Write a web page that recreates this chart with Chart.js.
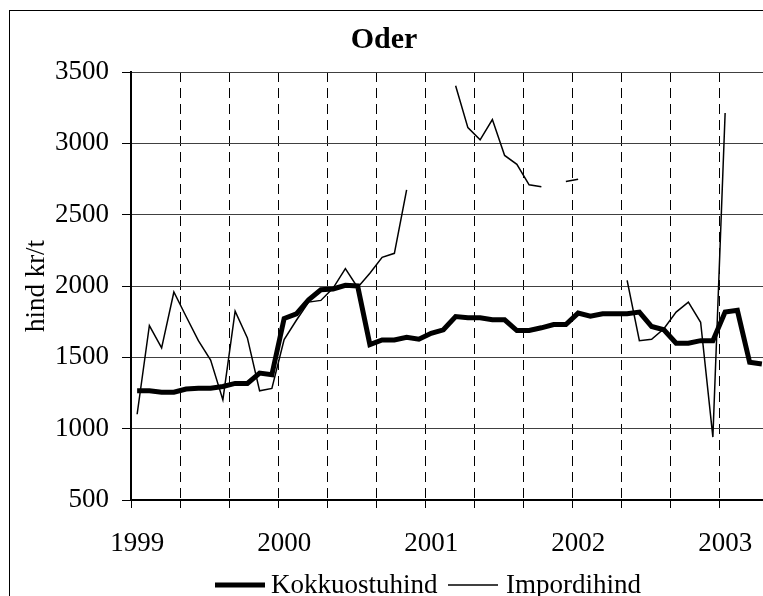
<!DOCTYPE html>
<html>
<head>
<meta charset="utf-8">
<script src="https://cdn.jsdelivr.net/npm/chart.js@4/dist/chart.umd.min.js"></script>
<style>
html,body{margin:0;padding:0;background:#fff;overflow:hidden;width:763px;height:596px;}
#wrap{position:absolute;left:0;top:0;width:768px;height:596px;}
</style>
</head>
<body>
<div id="wrap"><canvas id="c" width="768" height="596"></canvas></div>
<script>
// Monthly categories Jan 1999 .. Apr 2003
const years = ["1999", "2000", "2001", "2002", "2003"];
const monthsPerYear = ["01","02","03","04","05","06","07","08","09","10","11","12"];
const months = [];
for (const y of years) for (const m of monthsPerYear) months.push(y + "-" + m);
const categories = months.slice(0, 52);

const seriesNames = ["Kokkuostuhind", "Impordihind"];

const kokkuostuhind = [
  1265, 1265, 1255, 1255, 1278, 1284, 1284, 1296, 1317, 1317, 1390, 1378,
  1772, 1805, 1904, 1974, 1979, 2005, 2000, 1589, 1622, 1622, 1641, 1627,
  1669, 1693, 1786, 1777, 1777, 1763, 1763, 1688, 1688, 1707, 1730, 1730,
  1810, 1789, 1805, 1805, 1805, 1817, 1716, 1693, 1599, 1599, 1617, 1617,
  1817, 1829, 1465, 1453
];

const impordihind = [
  1101, 1723, 1566, 1958, 1786, 1617, 1481, 1202, 1824, 1636, 1265, 1282,
  1624, 1760, 1887, 1899, 1985, 2122, 1990, 2089, 2201, 2229, 2674, null,
  null, null, 3404, 3110, 3025, 3167, 2915, 2853, 2709, 2695, null, 2732,
  2748, null, null, null, 2040, 1617, 1627, 1700, 1817, 1887, 1746, 941,
  3212, null, null, null
];

const yTicks = [500, 1000, 1500, 2000, 2500, 3000, 3500];

const FONT = "'Liberation Serif', 'Times New Roman', serif";

const framePlugin = {
  id: 'frame',
  beforeDraw(chart) {
    const ctx = chart.ctx;
    ctx.save();
    ctx.fillStyle = '#fff';
    ctx.fillRect(0, 0, chart.width, chart.height);
    ctx.strokeStyle = '#000';
    ctx.lineWidth = 1;
    ctx.strokeRect(9.5, 10.5, 800, 700);
    ctx.restore();
  }
};

const legendPlugin = {
  id: 'bottomLegend',
  afterDraw(chart) {
    const ctx = chart.ctx;
    const items = [
      { x0: 215, x1: 265, tx: 271 },
      { x0: 448, x1: 498, tx: 506 }
    ];
    ctx.save();
    ctx.font = "27px " + FONT;
    ctx.fillStyle = '#000';
    ctx.textBaseline = 'alphabetic';
    ctx.textAlign = 'left';
    chart.data.datasets.forEach((ds, i) => {
      const it = items[i];
      ctx.strokeStyle = ds.borderColor;
      ctx.lineWidth = ds.borderWidth;
      ctx.lineCap = 'butt';
      ctx.beginPath();
      ctx.moveTo(it.x0, 585);
      ctx.lineTo(it.x1, 585);
      ctx.stroke();
      ctx.fillText(ds.label, it.tx, 593);
    });
    ctx.restore();
  }
};

new Chart(document.getElementById('c'), {
  type: 'line',
  data: {
    labels: categories,
    datasets: [
      {
        label: seriesNames[0],
        data: kokkuostuhind,
        borderColor: '#000',
        backgroundColor: '#000',
        borderWidth: 5,
        pointRadius: 0,
        tension: 0,
        spanGaps: false,
        borderJoinStyle: 'miter'
      },
      {
        label: seriesNames[1],
        data: impordihind,
        borderColor: '#000',
        backgroundColor: '#000',
        borderWidth: 1.5,
        pointRadius: 0,
        tension: 0,
        spanGaps: false
      }
    ]
  },
  options: {
    responsive: false,
    animation: false,
    devicePixelRatio: 1,
    layout: { padding: { left: 0, right: 0, top: 0, bottom: 0 } },
    plugins: {
      legend: { display: false },
      tooltip: { enabled: false },
      title: {
        display: true,
        text: 'Oder',
        color: '#000',
        font: { family: FONT, size: 30, weight: 'bold' },
        padding: { top: 22, bottom: 14 }
      }
    },
    scales: {
      x: {
        type: 'category',
        offset: true,
        afterFit(scale) {
          scale.height = 96;
          scale.paddingLeft = 0;
          scale.paddingRight = 0;
        },
        grid: {
          offset: true,
          drawOnChartArea: true,
          color: '#000',
          lineWidth: (ctx) => (ctx.index % 4 === 0 ? 1 : 0),
          tickLength: 8,
          tickColor: '#000',
          tickBorderDash: []
        },
        border: { display: true, color: '#000', width: 2, dash: [10, 6] },
        ticks: {
          autoSkip: false,
          maxRotation: 0,
          minRotation: 0,
          padding: 20,
          color: '#000',
          font: { family: FONT, size: 27 },
          callback: function (value, index) {
            const lab = categories[index];
            return lab.endsWith('-01') ? lab.slice(0, 4) : '';
          }
        }
      },
      y: {
        min: 500,
        max: 3500,
        afterFit(scale) { scale.width = 131; },
        afterBuildTicks(scale) { scale.ticks = yTicks.map(v => ({ value: v })); },
        grid: {
          color: '#404040',
          lineWidth: 1,
          tickLength: 9,
          tickColor: '#000'
        },
        border: { display: true, color: '#000', width: 2 },
        ticks: {
          padding: 13,
          color: '#000',
          font: { family: FONT, size: 27 },
          callback: (v) => String(v)
        },
        title: {
          display: true,
          text: 'hind kr/t',
          color: '#000',
          font: { family: FONT, size: 27 },
          padding: { top: 21, bottom: 0 }
        }
      }
    }
  },
  plugins: [framePlugin, legendPlugin]
});
</script>
</body>
</html>
